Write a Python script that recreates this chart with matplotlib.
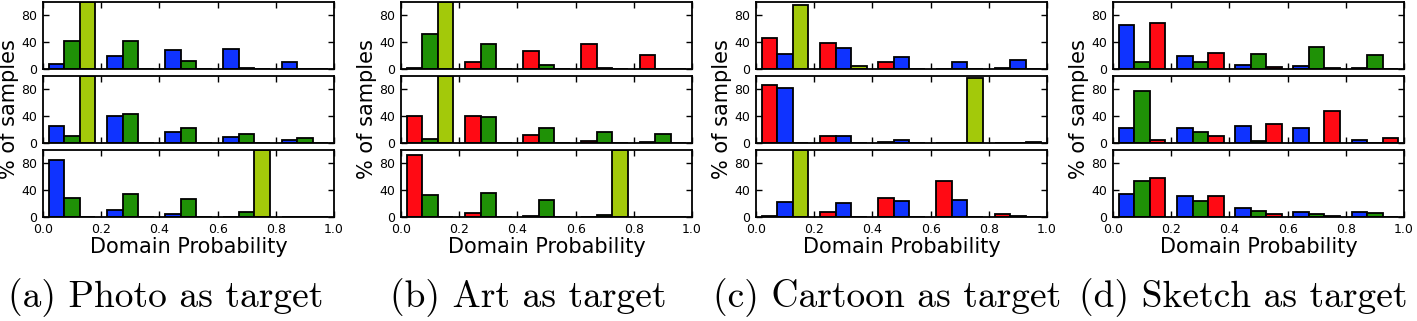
import matplotlib
matplotlib.use("Agg")
import matplotlib.pyplot as plt
import numpy as np

# histogram bins (domain probability)
edges = [0.0, 0.2, 0.4, 0.6, 0.8, 1.0]

# colours of the domains
c_photo = '#0f33ff'
c_art = '#1f9106'
c_cartoon = '#ff0a14'
c_sketch = '#a3c90a'

# (a) Photo as target: blue, green, yellow-green
a_top = [[8, 20, 28, 30, 11], [42, 42, 12, 2, 0.5], [100, 0, 0, 0, 0]]
a_mid = [[26, 41, 17, 9, 4], [11, 44, 22, 13, 7], [100, 0, 0, 0, 0]]
a_bot = [[85, 10, 4, 0.5, 0], [28, 35, 27, 7, 0], [0, 0, 0, 100, 0]]

# (b) Art as target: red, green, yellow-green
b_top = [[1, 10, 27, 37, 21], [52, 37, 6, 1, 0.5], [100, 0, 0, 0, 0]]
b_mid = [[41, 41, 12, 3, 1], [6, 39, 22, 16, 14], [100, 0, 0, 0, 0]]
b_bot = [[92, 6, 1, 0, 0], [33, 36, 26, 3, 0], [0, 0, 0, 100, 0]]

# (c) Cartoon as target: red, blue, yellow-green
c_top = [[46, 39, 10, 0.5, 1], [23, 31, 18, 11, 13], [95, 4, 0, 0, 0]]
c_mid = [[87, 10, 1, 0, 0], [82, 11, 4, 0.5, 0], [0, 0, 0, 97, 2]]
c_bot = [[2, 8, 28, 53, 5], [23, 21, 24, 26, 2], [100, 0, 0, 0, 0]]

# (d) Sketch as target: blue, green, red
d_top = [[65, 19, 6, 4, 1], [10, 11, 22, 33, 21], [68, 24, 3, 1.5, 0.5]]
d_mid = [[22, 22, 25, 23, 5], [77, 17, 3, 0.5, 0], [4, 11, 28, 48, 7]]
d_bot = [[34, 32, 13, 8, 7], [54, 24, 9, 4, 6], [58, 31, 5, 1.5, 0.5]]

panels = [
    ([a_top, a_mid, a_bot], [c_photo, c_art, c_sketch], '(a) Photo as target'),
    ([b_top, b_mid, b_bot], [c_cartoon, c_art, c_sketch], '(b) Art as target'),
    ([c_top, c_mid, c_bot], [c_cartoon, c_photo, c_sketch], '(c) Cartoon as target'),
    ([d_top, d_mid, d_bot], [c_photo, c_art, c_cartoon], '(d) Sketch as target'),
]

W, H = 1417, 321
fig = plt.figure(figsize=(W / 100, H / 100), dpi=100)

lefts = [43, 401, 756, 1113]
width = 291
tops = [2, 76, 150]
height = 67
caption_x = [166, 528, 887, 1243]

centers = [(edges[i] + edges[i + 1]) / 2 for i in range(len(edges) - 1)]

for p, (rows, colors, caption) in enumerate(panels):
    l = lefts[p]
    for r, series in enumerate(rows):
        ax = fig.add_axes([l / W, 1 - (tops[r] + height) / H, width / W, height / H])
        ax.hist([centers] * 3, bins=edges, weights=series, color=colors,
                rwidth=0.8, edgecolor='black', linewidth=1.3)
        ax.set_xlim(0, 1)
        ax.set_ylim(0, 100)
        ax.set_yticks([0, 40, 80])
        ax.set_xticks(np.arange(0, 1.01, 0.2))
        ax.tick_params(direction='in', top=True, right=True, length=4,
                       width=1, labelsize=9, pad=4)
        for s in ax.spines.values():
            s.set_linewidth(1.3)
        if r < 2:
            ax.tick_params(labelbottom=False)
        else:
            ax.set_xticklabels(['0.0', '0.2', '0.4', '0.6', '0.8', '1.0'])
            ax.set_xlabel('Domain Probability', fontsize=15, labelpad=1)
    fig.text((l - 34) / W, 1 - 109.5 / H, '% of samples', rotation=90,
             ha='center', va='center', fontsize=15)
    fig.text(caption_x[p] / W, 1 - 298 / H, caption, ha='center', va='center',
             fontsize=27, family='cmr10')

fig.savefig('out.png', dpi=100)
